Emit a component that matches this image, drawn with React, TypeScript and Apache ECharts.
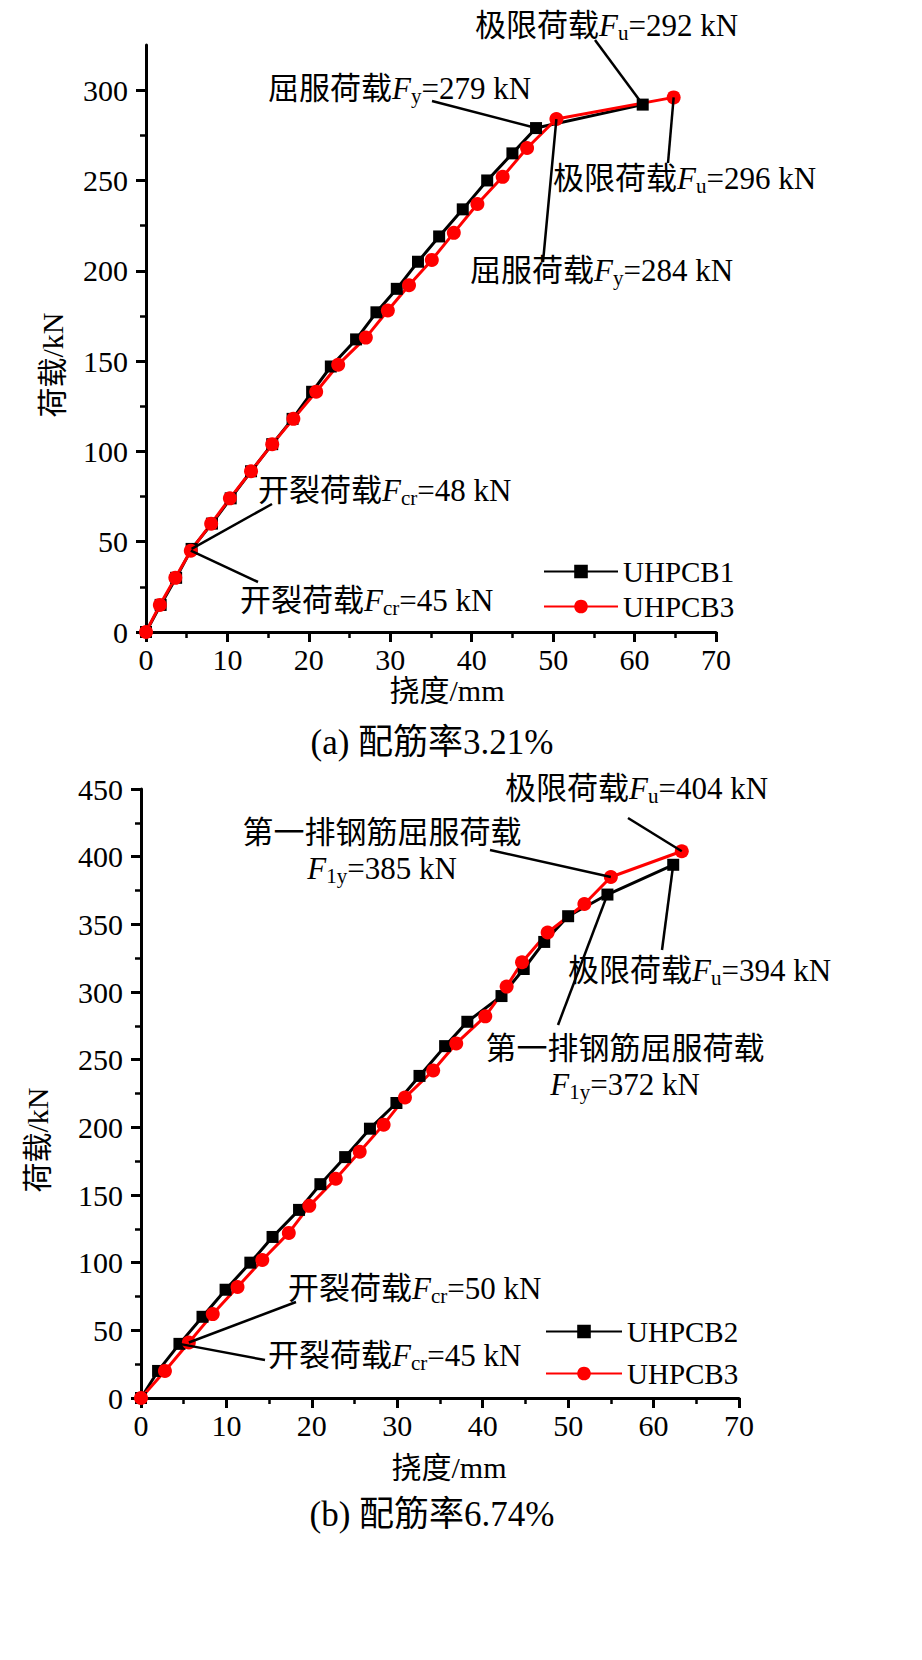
import React, { useEffect, useRef } from "react";
import * as echarts from "echarts";

const SERIF = "'Liberation Serif','Times New Roman','Noto Sans CJK SC',serif";

// ---- data: (a) 配筋率3.21% ----
const deflB1 = [0, 1.8, 3.7, 5.6, 8.1, 10.4, 12.9, 15.5, 18.0, 20.4, 22.7, 25.8, 28.3, 30.8, 33.4, 36.0, 38.9, 41.9, 45.0, 47.9, 61.0];
const loadB1 = [0, 15, 30, 46, 60, 74, 89, 104, 118, 133, 147, 162, 177, 190, 205, 219, 234, 250, 265, 279, 292];
const deflB3a = [0, 1.7, 3.6, 5.5, 8.0, 10.3, 12.9, 15.5, 18.1, 20.9, 23.6, 27.0, 29.7, 32.3, 35.1, 37.8, 40.7, 43.8, 46.8, 50.4, 64.8];
const loadB3a = [0, 15, 30, 45, 60, 74, 89, 104, 118, 133, 148, 163, 178, 192, 206, 221, 237, 252, 268, 284, 296];

// ---- data: (b) 配筋率6.74% ----
const deflB2 = [0, 2.0, 4.5, 7.2, 9.9, 12.8, 15.4, 18.5, 21.0, 23.9, 26.8, 29.9, 32.6, 35.6, 38.2, 42.2, 44.8, 47.2, 50.0, 54.6, 62.3];
const loadB2 = [0, 20, 40, 60, 80, 100, 119, 139, 158, 178, 199, 218, 238, 260, 278, 297, 317, 337, 356, 372, 394];
const deflB3b = [0, 2.8, 5.6, 8.4, 11.3, 14.2, 17.3, 19.7, 22.8, 25.6, 28.4, 30.9, 34.2, 36.9, 40.3, 42.8, 44.6, 47.6, 51.9, 55.0, 63.3];
const loadB3b = [0, 20, 41, 62, 82, 102, 122, 142, 162, 182, 202, 222, 242, 262, 282, 304, 322, 344, 365, 385, 404];

const seriesNamesA = ["UHPCB1", "UHPCB3"];
const seriesNamesB = ["UHPCB2", "UHPCB3"];

const yTicksA = [0, 50, 100, 150, 200, 250, 300];
const yMinorA = [25, 75, 125, 175, 225, 275];

const captionA = "(a) 配筋率3.21%";
const captionB = "(b) 配筋率6.74%";
const xName = "挠度/mm";
const yName = "荷载/kN";

const zip = (xs: number[], ys: number[]) => xs.map((x, i) => [x, ys[i]]);

// annotations: rich text, anchor in px, leader start px, leader end = a data point
type Ann = { lines: string[]; x: number; y: number; align: string; lx: number; ly: number; series: number; idx: number };

const annotations: Ann[] = [
  { lines: ["{n|屈服荷载}{i|F}{s|y}{n|=279 kN}"], x: 268, y: 88, align: "left", lx: 432, ly: 101, series: 0, idx: 19 },
  { lines: ["{n|极限荷载}{i|F}{s|u}{n|=292 kN}"], x: 475, y: 25, align: "left", lx: 595, ly: 40, series: 0, idx: 20 },
  { lines: ["{n|极限荷载}{i|F}{s|u}{n|=296 kN}"], x: 553, y: 178, align: "left", lx: 668, ly: 163, series: 1, idx: 20 },
  { lines: ["{n|屈服荷载}{i|F}{s|y}{n|=284 kN}"], x: 470, y: 270, align: "left", lx: 543, ly: 262, series: 1, idx: 19 },
  { lines: ["{n|开裂荷载}{i|F}{s|cr}{n|=48 kN}"], x: 258, y: 490, align: "left", lx: 272, ly: 504, series: 0, idx: 3 },
  { lines: ["{n|开裂荷载}{i|F}{s|cr}{n|=45 kN}"], x: 240, y: 600, align: "left", lx: 258, ly: 582, series: 1, idx: 3 },

  { lines: ["{n|极限荷载}{i|F}{s|u}{n|=404 kN}"], x: 505, y: 788, align: "left", lx: 628, ly: 818, series: 3, idx: 20 },
  { lines: ["{n|第一排钢筋屈服荷载}", "{i|F}{s|1y}{n|=385 kN}"], x: 382, y: 850, align: "center", lx: 490, ly: 850, series: 3, idx: 19 },
  { lines: ["{n|极限荷载}{i|F}{s|u}{n|=394 kN}"], x: 568, y: 970, align: "left", lx: 662, ly: 950, series: 2, idx: 20 },
  { lines: ["{n|第一排钢筋屈服荷载}", "{i|F}{s|1y}{n|=372 kN}"], x: 625, y: 1066, align: "center", lx: 558, ly: 1025, series: 2, idx: 19 },
  { lines: ["{n|开裂荷载}{i|F}{s|cr}{n|=50 kN}"], x: 288, y: 1288, align: "left", lx: 296, ly: 1302, series: 3, idx: 2 },
  { lines: ["{n|开裂荷载}{i|F}{s|cr}{n|=45 kN}"], x: 268, y: 1355, align: "left", lx: 265, ly: 1360, series: 2, idx: 2 },
];

const rich = {
  n: { fontFamily: SERIF, fontSize: 31, lineHeight: 36, color: "#000" },
  i: { fontFamily: SERIF, fontStyle: "italic", fontSize: 31, lineHeight: 36, color: "#000" },
  s: { fontFamily: SERIF, fontSize: 21, lineHeight: 17, verticalAlign: "bottom", color: "#000" },
};

const axisCommon = {
  axisLine: { show: true, onZero: false, lineStyle: { color: "#000", width: 3 } },
  axisTick: { show: true, inside: false, length: 10, lineStyle: { color: "#000", width: 3 } },
  axisLabel: { fontFamily: SERIF, fontSize: 30, color: "#000", margin: 12 },
  splitLine: { show: false },
};
const yLabel = { ...axisCommon.axisLabel, margin: 18 };
const minor = { show: true, splitNumber: 2, length: 6, lineStyle: { color: "#000", width: 2.5 } };

export default function App() {
  const ref = useRef<HTMLDivElement>(null);
  useEffect(() => {
    const chart = echarts.init(ref.current!, null, { renderer: "svg" });
    const allData = [zip(deflB1, loadB1), zip(deflB3a, loadB3a), zip(deflB2, loadB2), zip(deflB3b, loadB3b)];
    const blackSeries = (name: string, xi: number, yi: number, data: number[][]) => ({
      name, type: "line", xAxisIndex: xi, yAxisIndex: yi, data,
      symbol: "rect", symbolSize: 12, itemStyle: { color: "#000" }, lineStyle: { color: "#000", width: 3 }, clip: false,
    });
    const redSeries = (name: string, xi: number, yi: number, data: number[][]) => ({
      name, type: "line", xAxisIndex: xi, yAxisIndex: yi, data,
      symbol: "circle", symbolSize: 14, itemStyle: { color: "#f00" }, lineStyle: { color: "#f00", width: 3 }, clip: false,
    });
    chart.setOption({
      animation: false,
      backgroundColor: "#fff",
      grid: [
        { left: 146, top: 45, width: 570, height: 587 },
        { left: 141, top: 789, width: 598, height: 609 },
      ],
      xAxis: [
        { ...axisCommon, gridIndex: 0, type: "value", min: 0, max: 70, interval: 10, minorTick: minor },
        { ...axisCommon, gridIndex: 1, type: "value", min: 0, max: 70, interval: 10, minorTick: minor },
      ],
      yAxis: [
        {
          ...axisCommon, gridIndex: 0, type: "value", min: 0, max: 325, interval: 50,
          axisTick: { ...axisCommon.axisTick, customValues: yTicksA },
          axisLabel: { ...yLabel, customValues: yTicksA },
        },
        {
          gridIndex: 0, type: "value", min: 0, max: 325, position: "left",
          axisLine: { show: false },
          axisTick: { show: true, inside: false, length: 6, customValues: yMinorA, lineStyle: { color: "#000", width: 2.5 } },
          axisLabel: { show: false },
          splitLine: { show: false },
        },
        { ...axisCommon, axisLabel: yLabel, gridIndex: 1, type: "value", min: 0, max: 450, interval: 50, minorTick: minor },
      ],
      legend: [
        {
          orient: "vertical", left: 538, top: 551, itemWidth: 74, itemHeight: 17, itemGap: 4,
          data: seriesNamesA, textStyle: { fontFamily: SERIF, fontSize: 29, color: "#000", lineHeight: 31 },
        },
        {
          orient: "vertical", left: 540, top: 1311, itemWidth: 76, itemHeight: 17, itemGap: 11,
          data: seriesNamesB, textStyle: { fontFamily: SERIF, fontSize: 29, color: "#000", lineHeight: 31 },
        },
      ],
      series: [
        blackSeries(seriesNamesA[0], 0, 0, allData[0]),
        redSeries(seriesNamesA[1], 0, 0, allData[1]),
        blackSeries(seriesNamesB[0], 1, 2, allData[2]),
        redSeries(seriesNamesB[1], 1, 2, allData[3]),
      ],
    });

    const graphics: any[] = [];
    annotations.forEach((a) => {
      const pt = allData[a.series][a.idx];
      const p = chart.convertToPixel({ seriesIndex: a.series }, pt) as number[];
      graphics.push({
        type: "line", z: 50,
        shape: { x1: a.lx, y1: a.ly, x2: p[0], y2: p[1] },
        style: { stroke: "#000", lineWidth: 2.5 },
      });
      graphics.push({
        type: "text", z: 60, x: a.x, y: a.y,
        style: {
          text: a.lines.join("\n"), rich, fill: "#000",
          fontFamily: SERIF, fontSize: 31,
          align: a.align, textAlign: a.align, verticalAlign: "middle", textVerticalAlign: "middle",
        },
      });
    });
    const plain = (text: string, x: number, y: number, size: number, rotation = 0) => ({
      type: "text", x, y, rotation, z: 60,
      style: {
        text, fill: "#000", fontFamily: SERIF, fontSize: size,
        align: "center", textAlign: "center", verticalAlign: "middle", textVerticalAlign: "middle",
      },
    });
    graphics.push(plain(yName, 52, 365, 30, Math.PI / 2));
    graphics.push(plain(xName, 447, 690, 30));
    graphics.push(plain(captionA, 432, 742, 35));
    graphics.push(plain(yName, 37, 1140, 30, Math.PI / 2));
    graphics.push(plain(xName, 449, 1467, 30));
    graphics.push(plain(captionB, 432, 1514, 35));
    chart.setOption({ graphic: graphics });

    return () => chart.dispose();
  }, []);
  return (
    <div
      ref={ref}
      style={{ position: "absolute", left: 0, top: 0, width: 922, height: 1660, background: "#fff" }}
    />
  );
}
